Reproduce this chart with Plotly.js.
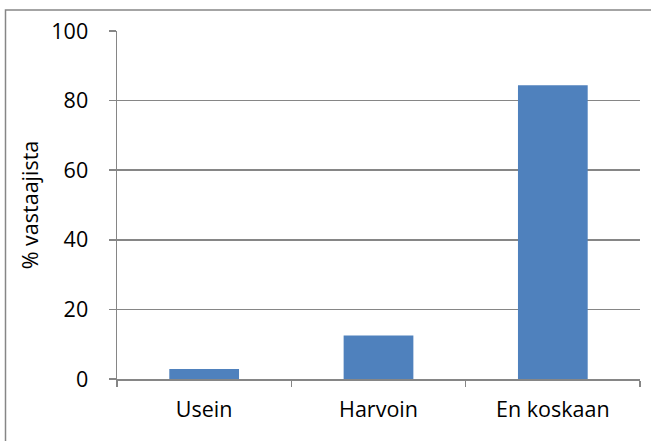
<!DOCTYPE html>
<html>
<head>
<meta charset="utf-8">
<script src="https://cdn.plot.ly/plotly-3.0.1.min.js"></script>
<style>html,body{margin:0;padding:0;background:#fff;}#chart{width:651px;height:441px;}</style>
</head>
<body>
<div id="chart"></div>
<script>
const categories = ["Usein", "Harvoin", "En koskaan"];
const values = [2.9, 12.5, 84.4];
const yTicks = [0, 20, 40, 60, 80, 100];

const trace = {
  type: "bar",
  x: categories,
  y: values,
  marker: {color: "#4f81bd", line: {width: 0}},
  hoverinfo: "skip"
};

const layout = {
  width: 651,
  height: 441,
  margin: {l: 117, r: 11, t: 31, b: 62, pad: 0},
  paper_bgcolor: "#ffffff",
  plot_bgcolor: "#ffffff",
  font: {family: "'Open Sans', Lato, sans-serif", size: 21.5, color: "#000000"},
  bargap: 0.6,
  showlegend: false,
  xaxis: {
    type: "category",
    showgrid: false,
    showline: true,
    linecolor: "#868686",
    linewidth: 1.5,
    ticks: "outside",
    tickson: "boundaries",
    ticklen: 6,
    tickwidth: 1.5,
    tickcolor: "#868686",
    ticklabelstandoff: 11,
    zeroline: false,
    fixedrange: true
  },
  yaxis: {
    range: [0, 100],
    tickvals: yTicks,
    ticktext: yTicks.map(String),
    showgrid: true,
    gridcolor: "#868686",
    gridwidth: 1.5,
    showline: true,
    linecolor: "#868686",
    linewidth: 1.5,
    ticks: "outside",
    ticklen: 7,
    tickwidth: 1.5,
    tickcolor: "#868686",
    ticklabelstandoff: 16,
    zeroline: false,
    fixedrange: true,
    title: {text: "% vastaajista", font: {size: 21.5}, standoff: 7}
  },
  shapes: [{
    type: "rect",
    xref: "paper", yref: "paper",
    x0: (5.5 - 117) / 523, x1: (660 - 117) / 523,
    y0: (379 - 450) / 348, y1: (379 - 10) / 348,
    line: {color: "#868686", width: 1.5},
    fillcolor: "rgba(0,0,0,0)",
    layer: "below"
  }]
};

Plotly.newPlot("chart", [trace], layout, {displayModeBar: false, staticPlot: true});
</script>
</body>
</html>
